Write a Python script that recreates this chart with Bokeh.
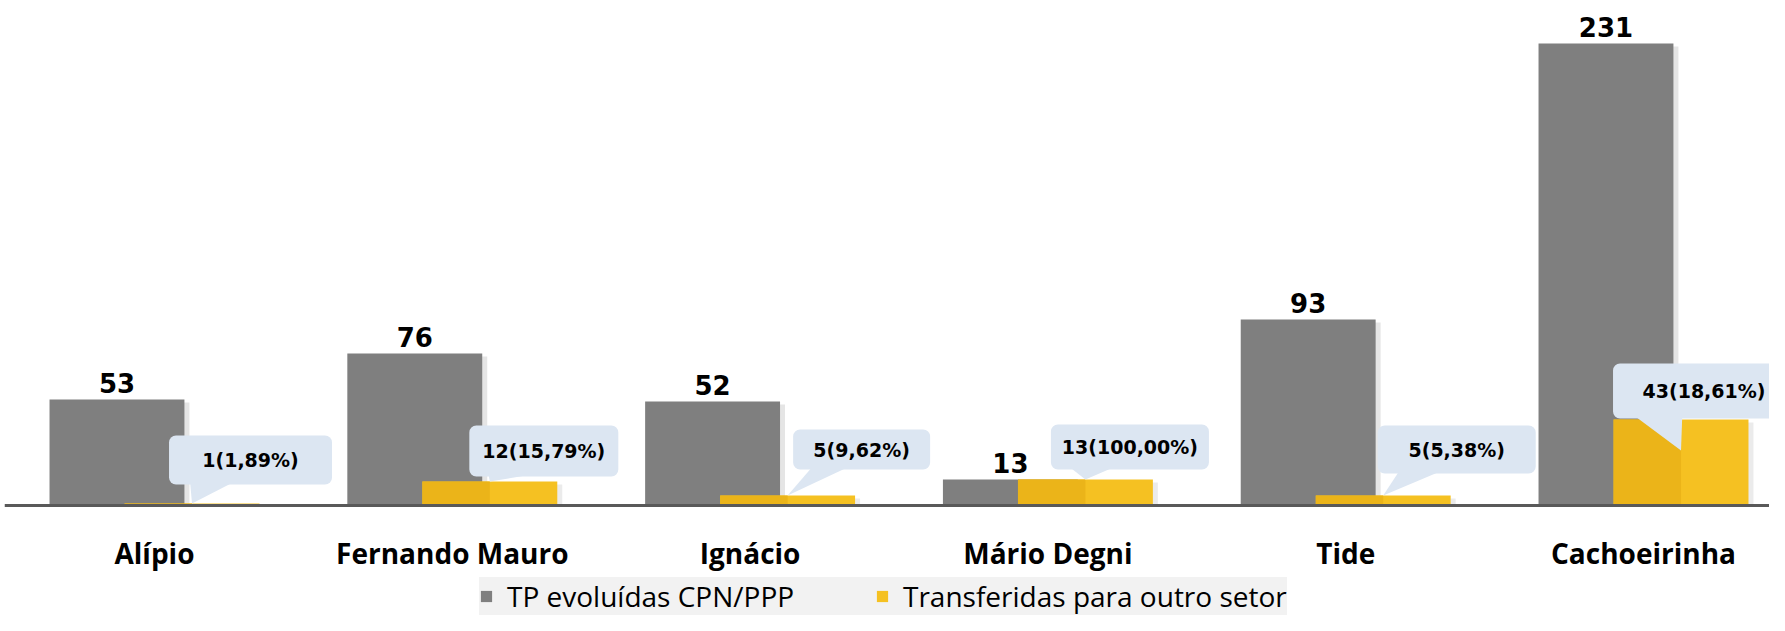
from bokeh.plotting import figure
from bokeh.models import Range1d, FixedTicker, Legend, LegendItem
from bokeh.embed import file_html
from bokeh.resources import INLINE
from bokeh.core.properties import value

# ---------------- data ----------------
categories = ["Alípio", "Fernando Mauro", "Ignácio", "Mário Degni", "Tide", "Cachoeirinha"]
tp_evoluidas = [53, 76, 52, 13, 93, 231]
transferidas = [1, 12, 5, 13, 5, 43]
series_names = ["TP evoluídas CPN/PPP", "Transferidas para outro setor"]

# ---------------- layout / style ----------------
FIG_W, FIG_H = 1769, 615
FRAME_W = 1765
BASE_PX = 505               # baseline position from the top of the frame (px)
X0 = -0.5037
X1 = X0 + FRAME_W / 297.8
PXY = 2.0                   # px per y unit
Y1 = BASE_PX / PXY
Y0 = -(FIG_H - BASE_PX) / PXY
PXX = FRAME_W / (X1 - X0)   # px per x unit
BAR_W = 0.453
DODGE = 0.126

GRAY = "#7f7f7f"
YELLOW = "#f5c122"
YELLOW_DARK = "#ebb419"
CALLOUT = "#dce6f2"

# callouts: box centre offset from bar top (px, right / up), box size (px), tail tip drop (px)
co_dx = [58.5, 54, 74, 44.5, 73.5, 23]
co_dy = [43.5, 30.5, 46, 32.5, 46, 28.5]
co_w = [163, 149, 137, 158, 158, 182]
co_h = [49, 51, 40, 45, 48, 55]
tip_drop = [0, 0, 0, 0, 0, 31]

idx = list(range(len(categories)))
xg = [i - DODGE for i in idx]
xy = [i + DODGE for i in idx]

p = figure(
    width=FIG_W, height=FIG_H,
    x_range=Range1d(X0, X1), y_range=Range1d(Y0, Y1),
    y_axis_type=None, output_backend="svg", toolbar_location=None,
    min_border_left=4, min_border_right=0, min_border_top=0, min_border_bottom=0,
)
p.outline_line_color = None
p.xgrid.visible = False
p.ygrid.visible = False
p.background_fill_color = "white"
p.border_fill_color = "white"

# soft shadows
p.vbar(x=[v + 5 / PXX for v in xg], top=[t - 3 / PXY for t in tp_evoluidas], width=BAR_W,
       fill_color="#000000", fill_alpha=0.10, line_color=None)
gray_r = p.vbar(x=xg, top=tp_evoluidas, width=BAR_W, fill_color=GRAY, line_color=None)

p.vbar(x=[v + 5 / PXX for v in xy], top=[max(t - 3 / PXY, 0) for t in transferidas], width=BAR_W,
       fill_color="#000000", fill_alpha=0.08, line_color=None)
yel_r = p.vbar(x=xy, top=transferidas, width=BAR_W, fill_color=YELLOW, line_color=None)
p.vbar(x=[v - BAR_W / 4 for v in xy], top=transferidas, width=BAR_W / 2,
       fill_color=YELLOW_DARK, line_color=None)

# value labels above gray bars
p.text(x=xg, y=tp_evoluidas, text=[str(v) for v in tp_evoluidas], y_offset=-17,
       text_align="center", text_baseline="alphabetic",
       text_font=value("DejaVu Sans"), text_font_style="bold", text_font_size="26px",
       text_color="#000000")

# callouts
lab = []
L, R, B, T, cx, cy = [], [], [], [], [], []
txs, tys = [], []
for i in idx:
    t = transferidas[i]
    g = tp_evoluidas[i]
    lab.append(f"{t}({t / g * 100:.2f}%)".replace(".", ","))
    tx = xy[i]
    ty = t - tip_drop[i] / PXY
    c_x = tx + co_dx[i] / PXX
    c_y = t + co_dy[i] / PXY
    l = c_x - co_w[i] / 2 / PXX
    r = c_x + co_w[i] / 2 / PXX
    b = c_y - co_h[i] / 2 / PXY
    tp = c_y + co_h[i] / 2 / PXY
    L.append(l); R.append(r); B.append(b); T.append(tp); cx.append(c_x); cy.append(c_y)
    w = r - l
    txs.append([l + 0.13 * w, l + 0.38 * w, tx])
    tys.append([b + 1 / PXY, b + 1 / PXY, ty])

p.patches(xs=txs, ys=tys, fill_color=CALLOUT, line_color=None)
p.quad(left=L, right=R, bottom=B, top=T, fill_color=CALLOUT, line_color=None, border_radius=7)
p.text(x=cx, y=cy, text=lab, text_align="center", text_baseline="middle",
       text_font=value("DejaVu Sans"), text_font_style="bold", text_font_size="19px",
       text_color="#000000")

# x axis, drawn at y = 0
ax = p.xaxis[0]
ax.fixed_location = 0
ax.ticker = FixedTicker(ticks=idx)
ax.major_label_overrides = {i: c for i, c in zip(idx, categories)}
ax.major_tick_line_color = None
ax.minor_tick_line_color = None
ax.axis_line_color = "#595959"
ax.axis_line_width = 3
ax.major_label_standoff = 22
ax.major_label_text_font = "Open Sans"
ax.major_label_text_font_style = "bold"
ax.major_label_text_font_size = "28px"
ax.major_label_text_color = "#000000"

legend = Legend(
    items=[LegendItem(label=series_names[0], renderers=[gray_r]),
           LegendItem(label=series_names[1], renderers=[yel_r])],
    orientation="horizontal", location=(475, 0),
    glyph_width=14, glyph_height=14, label_standoff=14, spacing=65,
    label_width=303, padding=4, margin=0,
    background_fill_color="#f2f2f2", background_fill_alpha=1.0, border_line_color=None,
    label_text_font="Open Sans", label_text_font_size="28px", label_text_color="#000000",
)
p.add_layout(legend, "center")

open("out.html", "w").write(file_html(p, INLINE))
